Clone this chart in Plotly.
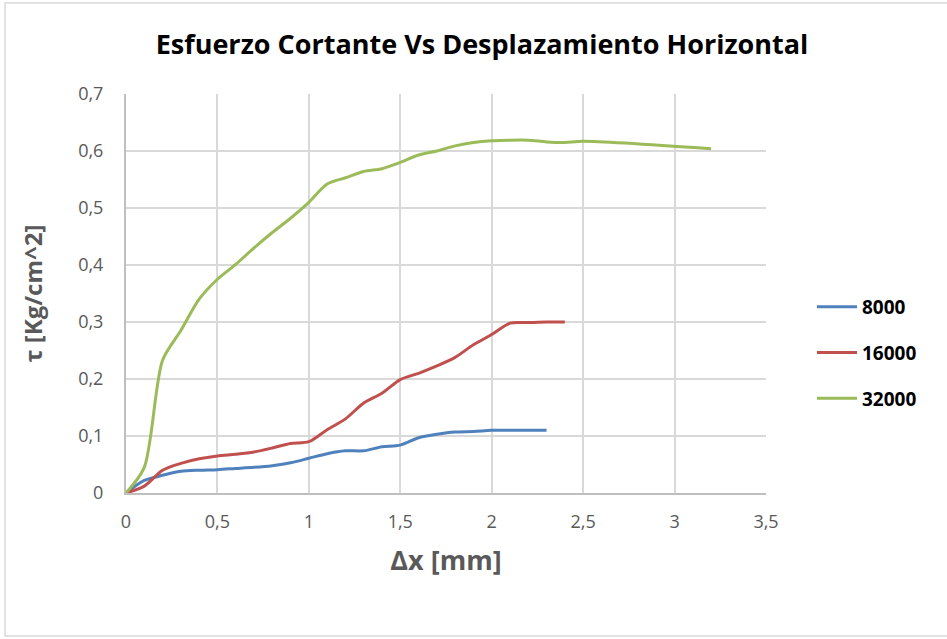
import plotly.graph_objects as go

# Horizontal displacement [mm] and shear stress [Kg/cm^2] for each normal load
x_8000 = [0.0, 0.1, 0.2, 0.3, 0.4, 0.5, 0.6, 0.7, 0.8, 0.9, 1.0, 1.1, 1.2,
          1.3, 1.4, 1.5, 1.6, 1.7, 1.8, 1.9, 2.0, 2.1, 2.2, 2.3]
tau_8000 = [0.0, 0.022, 0.031, 0.038, 0.040, 0.041, 0.043, 0.045, 0.048, 0.053,
            0.061, 0.069, 0.074, 0.074, 0.081, 0.084, 0.097, 0.103, 0.107, 0.108,
            0.110, 0.110, 0.110, 0.110]

x_16000 = [0.0, 0.1, 0.2, 0.3, 0.4, 0.5, 0.6, 0.7, 0.8, 0.9, 1.0, 1.1, 1.2,
           1.3, 1.4, 1.5, 1.6, 1.7, 1.8, 1.9, 2.0, 2.1, 2.2, 2.3, 2.4]
tau_16000 = [0.0, 0.012, 0.040, 0.052, 0.060, 0.065, 0.068, 0.072, 0.079, 0.087,
             0.090, 0.111, 0.130, 0.158, 0.175, 0.199, 0.210, 0.223, 0.238, 0.260,
             0.278, 0.298, 0.299, 0.300, 0.300]

x_32000 = [0.0, 0.1, 0.2, 0.3, 0.4, 0.5, 0.6, 0.7, 0.8, 0.9, 1.0, 1.1, 1.2,
           1.3, 1.4, 1.5, 1.6, 1.7, 1.8, 1.9, 2.0, 2.1, 2.2, 2.3, 2.4, 2.5, 3.2]
tau_32000 = [0.0, 0.045, 0.233, 0.285, 0.340, 0.375, 0.401, 0.430, 0.457, 0.482,
             0.510, 0.542, 0.553, 0.564, 0.569, 0.580, 0.593, 0.600, 0.609, 0.615,
             0.618, 0.619, 0.619, 0.616, 0.615, 0.617, 0.604]

series_names = ["8000", "16000", "32000"]
series_colors = ["#4F81BD", "#C0504D", "#9BBB59"]

W, H = 947, 639
ML, MR, MT, MB = 126, 181, 94, 146
PW, PH = W - ML - MR, H - MT - MB

FONT = "Open Sans, Liberation Sans, sans-serif"

fig = go.Figure()
for name, xs, ys, color in zip(series_names,
                               [x_8000, x_16000, x_32000],
                               [tau_8000, tau_16000, tau_32000],
                               series_colors):
    fig.add_trace(go.Scatter(
        x=xs, y=ys, name=name, mode="lines", legendgroup=name,
        line=dict(color=color, width=3, shape="spline", smoothing=0.8),
    ))

grid = "#D9D9D9"
tick_font = dict(family=FONT, size=18, color="#595959")

fig.update_layout(
    width=W, height=H,
    margin=dict(l=ML, r=MR, t=MT, b=MB),
    paper_bgcolor="white", plot_bgcolor="white",
    separators=", ",
    title=dict(
        text="<b>Esfuerzo Cortante Vs Desplazamiento Horizontal</b>",
        x=(482 - ML) / PW, xref="paper", xanchor="center",
        y=1 - 45 / H, yanchor="middle",
        font=dict(family=FONT, size=27, color="black"),
    ),
    xaxis=dict(
        range=[0, 3.5], dtick=0.5, tick0=0,
        showgrid=True, gridcolor=grid, gridwidth=1.5,
        showline=True, linecolor="#BFBFBF", linewidth=2, mirror=False,
        zeroline=False, ticks="", ticklabelstandoff=11,
        tickfont=tick_font,
        title=dict(text="<b>Δx [mm]</b>", font=dict(family=FONT, size=27, color="#595959"), standoff=20),
    ),
    yaxis=dict(
        range=[0, 0.7], dtick=0.1, tick0=0,
        showgrid=True, gridcolor=grid, gridwidth=1.5,
        showline=True, linecolor="#BFBFBF", linewidth=2,
        zeroline=False, ticks="", ticklabelstandoff=17,
        tickfont=tick_font,
        title=dict(text="<b>τ [Kg/cm^2]</b>", font=dict(family=FONT, size=24, color="#595959"), standoff=29),
    ),
    legend=dict(
        x=(812 - ML) / PW, xanchor="left",
        y=(H - MB - 353) / PH, yanchor="middle",
        font=dict(family=FONT, size=19, color="black", weight="bold"),
        tracegroupgap=18, itemwidth=40,
        bgcolor="rgba(0,0,0,0)",
    ),
    showlegend=True,
)

# Light frame around the whole chart area
fig.add_shape(
    type="rect", xref="paper", yref="paper",
    x0=(5 - ML) / PW, x1=(W + 5 - ML) / PW,
    y0=(H - MB - 636) / PH, y1=(H - MB - 3) / PH,
    line=dict(color="#D9D9D9", width=1.5), fillcolor="rgba(0,0,0,0)", layer="below",
)

fig.write_html("out.html")
